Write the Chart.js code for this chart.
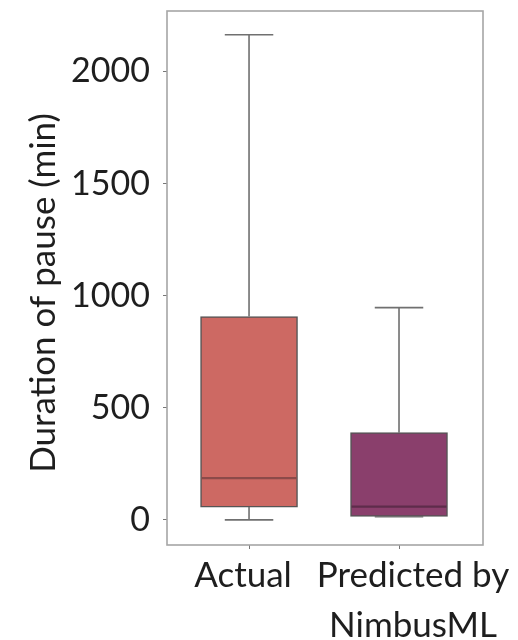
<!DOCTYPE html>
<html>
<head>
<meta charset="utf-8">
<script src="https://cdn.jsdelivr.net/npm/chart.js@4.4.1/dist/chart.umd.min.js"></script>
<style>
  html, body { margin: 0; padding: 0; background: #ffffff; }
  #wrap { width: 518px; height: 640px; position: relative; }
</style>
</head>
<body>
<div id="wrap"><canvas id="chart"></canvas></div>
<script>
// Pause durations (minutes): five-number summaries per group
const categories = ['Actual', ['Predicted by', 'NimbusML']];
const whiskerLow  = [0, 14];
const quartile1   = [57, 15];
const medians     = [186, 59];
const quartile3   = [907, 389];
const whiskerHigh = [2164, 947];
const yTicks = [0, 500, 1000, 1500, 2000];
const yTitle = 'Duration of pause (min)';

const fillColors   = ['#cd6963', '#8a3f6c'];
const medianColors = ['#8c4a49', '#5e2c4b'];

const FONT = 'Lato, "Open Sans", sans-serif';
const TEXT = '#1e1e1e';
// horizontal nudge of each category label relative to its box centre
const labelNudge = [-6, 14];

// whiskers, caps and median lines, positioned through the chart's scales
const boxDetails = {
  id: 'boxDetails',
  afterDatasetsDraw(chart) {
    const { ctx, scales: { x, y } } = chart;
    const bars = chart.getDatasetMeta(0).data;
    ctx.save();
    bars.forEach((bar, i) => {
      const cx = x.getPixelForValue(i);
      const half = bar.width / 2;
      const yMin = y.getPixelForValue(whiskerLow[i]);
      const yQ1 = y.getPixelForValue(quartile1[i]);
      const yMed = y.getPixelForValue(medians[i]);
      const yQ3 = y.getPixelForValue(quartile3[i]);
      const yMax = y.getPixelForValue(whiskerHigh[i]);
      ctx.strokeStyle = '#707070';
      ctx.lineWidth = 1.6;
      ctx.beginPath();
      ctx.moveTo(cx, yQ3); ctx.lineTo(cx, yMax);
      ctx.moveTo(cx - half / 2, yMax); ctx.lineTo(cx + half / 2, yMax);
      ctx.moveTo(cx, yQ1); ctx.lineTo(cx, yMin);
      ctx.moveTo(cx - half / 2, yMin); ctx.lineTo(cx + half / 2, yMin);
      ctx.stroke();
      ctx.strokeStyle = medianColors[i];
      ctx.lineWidth = 2.2;
      ctx.beginPath();
      ctx.moveTo(cx - half + 1, yMed); ctx.lineTo(cx + half - 1, yMed);
      ctx.stroke();
    });
    ctx.restore();
  }
};

// frame around the plotting area, axis title and category labels
const frameAndText = {
  id: 'frameAndText',
  afterDraw(chart) {
    const { ctx, chartArea: a, scales: { x } } = chart;
    ctx.save();
    ctx.strokeStyle = '#a6a6a6';
    ctx.lineWidth = 1.6;
    ctx.strokeRect(a.left, a.top, a.right - a.left, a.bottom - a.top);

    ctx.fillStyle = TEXT;
    ctx.font = '35px ' + FONT;
    ctx.textAlign = 'center';
    ctx.textBaseline = 'alphabetic';
    categories.forEach((c, i) => {
      const lines = Array.isArray(c) ? c : [c];
      const cx = x.getPixelForValue(i) + labelNudge[i];
      lines.forEach((line, k) => ctx.fillText(line, cx, a.bottom + 42 + k * 50));
    });

    ctx.translate(55, (a.top + a.bottom) / 2 + 15);
    ctx.rotate(-Math.PI / 2);
    ctx.fillText(yTitle, 0, 0);
    ctx.restore();
  }
};

new Chart(document.getElementById('chart'), {
  type: 'bar',
  data: {
    datasets: [{
      data: categories.map((c, i) => ({ x: i, y: [quartile1[i], quartile3[i]] })),
      backgroundColor: fillColors,
      borderColor: '#555555',
      borderWidth: 1.5,
      borderSkipped: false,
      barThickness: 97
    }]
  },
  options: {
    responsive: true,
    maintainAspectRatio: false,
    animation: false,
    layout: { padding: { top: 11, right: 35, bottom: 0, left: 0 } },
    plugins: { legend: { display: false }, tooltip: { enabled: false } },
    scales: {
      x: {
        type: 'linear',
        offset: false,
        min: -0.547,
        max: 1.56,
        afterBuildTicks: (s) => { s.ticks = categories.map((_, i) => ({ value: i })); },
        afterFit: (s) => { s.height = 95; s.paddingLeft = 0; s.paddingRight = 0; },
        ticks: { display: false },
        grid: { display: true, offset: false, drawOnChartArea: false, tickLength: 4, color: '#777777', lineWidth: 1 },
        border: { display: false }
      },
      y: {
        min: -112,
        max: 2270,
        afterBuildTicks: (s) => { s.ticks = yTicks.map(v => ({ value: v })); },
        afterFit: (s) => { s.width = 167; s.paddingTop = 0; s.paddingBottom = 0; },
        ticks: {
          padding: 13,
          color: TEXT,
          font: { family: FONT, size: 34 },
          callback: (v) => String(v)
        },
        grid: { display: true, drawOnChartArea: false, tickLength: 4, color: '#777777', lineWidth: 1 },
        border: { display: false },
        title: { display: false }
      }
    }
  },
  plugins: [boxDetails, frameAndText]
});
</script>
</body>
</html>
